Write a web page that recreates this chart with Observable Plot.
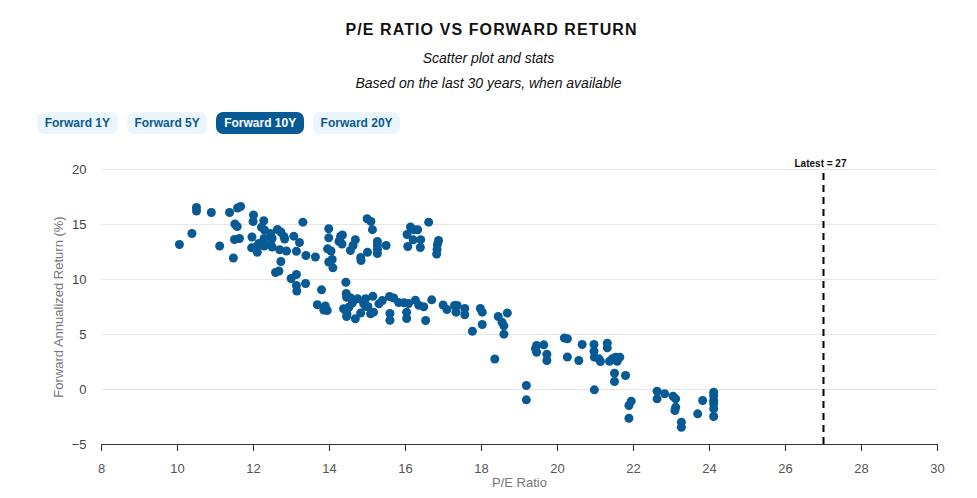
<!DOCTYPE html>
<html>
<head>
<meta charset="utf-8">
<script src="https://cdn.jsdelivr.net/npm/d3@7"></script>
<script src="https://cdn.jsdelivr.net/npm/@observablehq/plot@0.6"></script>
<style>
  body { margin: 0; background: #fff; font-family: "Liberation Sans", Arial, sans-serif; }
  #header { height: 145px; position: relative; }
  .title { position: absolute; top: 21px; left: 3px; width: 100%; text-align: center; font-weight: bold; font-size: 16px; letter-spacing: 1.1px; color: #111; }
  .sub { position: absolute; width: 100%; text-align: center; font-style: italic; font-size: 14px; color: #111; }
  .btns { position: absolute; top: 112px; left: 37px; display: flex; gap: 9px; }
  .btn { height: 22px; line-height: 22px; padding: 0 7.7px; border-radius: 7px; font-weight: bold; font-size: 12px; background: #eaf5fc; color: #0b5a8f; }
  .btn.active { background: #085a94; color: #fff; }
</style>
</head>
<body>
<div id="header">
  <div class="title">P/E RATIO VS FORWARD RETURN</div>
  <div class="sub" style="top:50px">Scatter plot and stats</div>
  <div class="sub" style="top:75px">Based on the last 30 years, when available</div>
  <div class="btns" id="btns"></div>
</div>
<div id="chart"></div>
<script>
const buttons = ["Forward 1Y", "Forward 5Y", "Forward 10Y", "Forward 20Y"];
const activeButton = "Forward 10Y";
const xTicks = [8, 10, 12, 14, 16, 18, 20, 22, 24, 26, 28, 30];
const yTicks = [-5, 0, 5, 10, 15, 20];
const latestPE = 27;

const pe = [
  10.05,10.38,10.5,10.5,10.89,11.11,11.37,11.47,11.51,11.57,11.5,11.63,11.58,11.66,12.0,11.99,11.96,11.95,12.1,12.27,12.21,12.29,12.14,12.09,12.28,12.28,
  12.45,12.49,12.45,12.49,12.63,12.72,12.8,12.82,12.69,12.87,12.72,12.58,12.67,13.06,13.21,13.13,13.3,12.99,13.13,13.13,13.14,13.38,13.37,13.63,13.79,
  13.98,13.98,13.95,14.04,13.98,14.07,14.09,14.29,14.34,14.25,14.33,14.43,14.55,14.62,14.68,14.82,14.83,14.99,15.09,15.13,15.0,15.26,15.26,15.26,15.26,
  15.49,16.04,16.13,16.22,16.32,16.06,16.2,16.4,16.39,16.61,16.87,16.84,16.83,16.82,
  13.68,13.89,13.94,13.85,14.44,14.45,14.37,14.46,14.51,14.6,14.55,14.74,14.95,15.14,14.45,14.68,14.82,14.95,15.08,15.16,15.3,15.39,14.9,15.01,
  15.58,15.69,15.82,15.96,16.08,16.26,16.35,16.48,15.59,15.59,16.03,16.03,16.53,16.69,16.99,17.09,17.29,17.36,17.33,17.56,17.56,17.76,17.97,18.02,18.02,
  18.35,18.44,18.54,18.59,18.59,18.68,
  19.18,19.18,19.45,19.42,19.45,19.64,19.72,19.72,20.18,20.26,20.26,20.56,20.65,20.96,20.96,20.97,21.09,21.13,21.31,21.31,21.37,21.44,21.53,21.64,21.57,
  21.5,21.5,21.79,20.97,21.88,21.94,21.88,22.62,22.62,22.82,23.04,23.11,23.11,23.09,23.26,23.26,23.69,23.82,24.11,24.11,24.11,24.11,24.11,24.11
];
const fwdReturn = [
  13.18,14.18,16.55,16.23,16.09,13.05,16.09,11.95,15.05,14.82,13.64,13.73,16.5,16.64,15.86,15.27,13.86,12.88,12.48,15.34,14.75,14.5,13.27,13.0,13.73,13.05,
  14.18,13.73,13.18,12.95,14.55,14.32,13.91,13.68,12.7,12.59,11.64,10.64,10.77,13.94,13.36,12.57,15.21,10.09,10.45,9.45,8.95,12.18,9.64,12.05,9.06,
  14.61,13.79,12.79,12.59,11.59,11.82,11.06,13.91,14.05,13.45,13.23,9.75,12.64,13.09,13.61,12.0,11.73,15.52,15.27,14.53,12.48,13.45,13.09,12.73,12.36,
  13.09,14.09,14.77,14.52,14.52,13.0,13.61,13.62,12.91,15.21,13.55,13.18,12.73,12.32,
  7.7,7.59,7.18,7.23,8.73,8.39,7.34,6.88,7.48,7.85,8.35,8.25,8.25,8.48,6.64,6.43,6.95,7.55,6.88,7.03,7.79,8.09,7.79,7.55,
  8.45,8.32,7.91,7.88,7.82,8.12,7.66,7.52,6.91,6.3,7.03,6.45,6.27,8.15,7.68,7.27,7.64,7.64,7.03,7.36,6.8,5.3,7.36,7.03,5.91,
  2.77,6.64,6.12,5.79,5.03,6.95,
  0.36,-0.94,4.0,3.7,3.39,4.06,3.2,2.64,4.68,4.61,2.95,2.64,4.09,4.09,3.48,2.94,2.79,2.55,4.21,3.79,2.57,2.79,2.94,2.94,2.57,
  1.48,0.73,1.27,-0.03,-1.45,-1.06,-2.61,-0.15,-0.85,-0.39,-0.61,-0.85,-1.61,-1.91,-2.97,-3.43,-2.21,-1.0,-0.25,-0.55,-1.0,-1.3,-1.75,-2.45
];

const btns = document.getElementById("btns");
for (const b of buttons) {
  const d = document.createElement("div");
  d.className = "btn" + (b === activeButton ? " active" : "");
  d.textContent = b;
  btns.appendChild(d);
}

const data = pe.map((x, i) => ({pe: x, ret: fwdReturn[i]}));

const chart = Plot.plot({
  width: 977,
  height: 353,
  marginLeft: 101,
  marginRight: 40,
  marginTop: 24,
  marginBottom: 54,
  style: {fontFamily: "Liberation Sans, Arial, sans-serif", fontSize: "13px", color: "#444"},
  x: {domain: [8, 30]},
  y: {domain: [-5, 20]},
  marks: [
    Plot.gridY(yTicks.filter(t => t > -5), {stroke: "#e6e6e6", strokeOpacity: 1}),
    Plot.axisY(yTicks, {tickSize: 0, tickPadding: 15, label: null, fill: "#444"}),
    Plot.axisX(xTicks, {tickSize: 7, tickPadding: 12, label: null, stroke: "#333", fill: "#555"}),
    Plot.ruleY([-5], {stroke: "#333", strokeWidth: 1}),
    Plot.text(["P/E Ratio"], {frameAnchor: "bottom", dy: 42, fill: "#777", fontSize: 13}),
    Plot.text(["Forward Annualized Return (%)"], {frameAnchor: "left", textAnchor: "middle", rotate: -90, dx: -43, fill: "#777", fontSize: 13}),
    Plot.dot(data, {x: "pe", y: "ret", r: 4.5, fill: "#085a94", stroke: "none"}),
    Plot.ruleX([latestPE], {y1: -5, y2: 20, stroke: "#000", strokeWidth: 2, strokeDasharray: "7,5"}),
    Plot.text([latestPE], {x: d => d, y: 20, text: d => `Latest = ${d}`, dx: -3, dy: -6, fontWeight: "bold", fontSize: 10, fill: "#111"})
  ]
});
document.getElementById("chart").appendChild(chart);
</script>
</body>
</html>
